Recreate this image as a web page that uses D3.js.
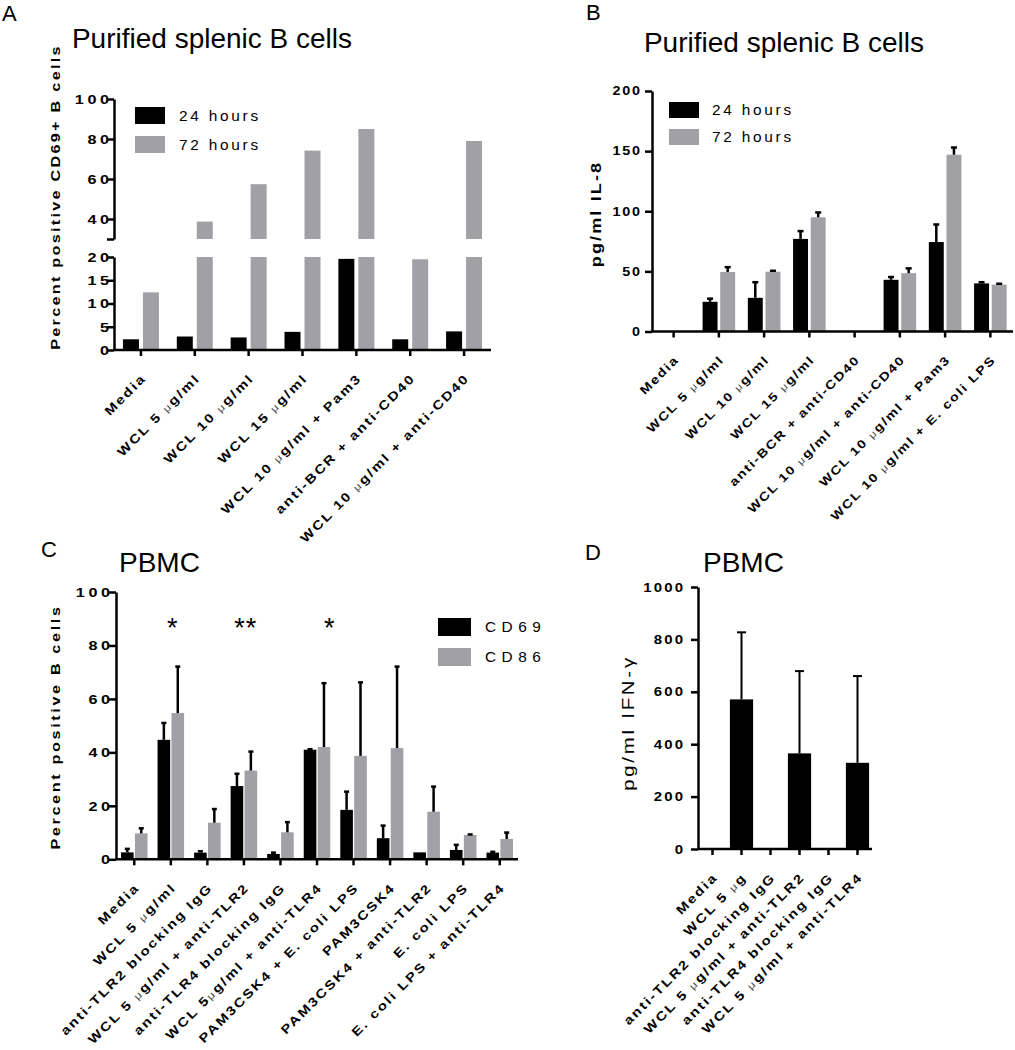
<!DOCTYPE html>
<html><head><meta charset="utf-8">
<script src="https://cdn.jsdelivr.net/npm/d3@7"></script>
<style>
html,body{margin:0;padding:0;background:#fff;}
svg{display:block;font-family:"Liberation Sans",Arial,sans-serif;}
</style></head>
<body>
<svg id="fig" width="1015" height="1050"></svg>
<script>
// ---------- DATA ----------
const seriesAB = ["24 hours", "72 hours"];
const seriesC = ["CD69", "CD86"];

const catA = ["Media","WCL 5 μg/ml","WCL 10 μg/ml","WCL 15 μg/ml","WCL 10 μg/ml + Pam3","anti-BCR + anti-CD40","WCL 10 μg/ml + anti-CD40"];
const a24 = [2.3, 2.9, 2.7, 3.9, 19.6, 2.3, 4.0];
const a72 = [12.4, 38.7, 57.4, 74.2, 85.0, 19.5, 79.0];
const ticksALow = [0, 5, 10, 15, 20];
const ticksAUp = [30, 40, 60, 80, 100];

const catB = ["Media","WCL 5 μg/ml","WCL 10 μg/ml","WCL 15 μg/ml","anti-BCR + anti-CD40","WCL 10 μg/ml + anti-CD40","WCL 10 μg/ml + Pam3","WCL 10 μg/ml + E. coli LPS"];
const b24 = [0, 24.7, 28.0, 77.0, 0, 43.0, 74.4, 40.0];
const b24sd = [0, 2.6, 13.0, 6.5, 0, 2.3, 14.6, 1.0];
const b72 = [0, 49.5, 49.7, 95.0, 0, 48.5, 147.0, 39.0];
const b72sd = [0, 4.0, 0.8, 4.0, 0, 4.0, 6.0, 0.7];
const ticksB = [0, 50, 100, 150, 200];

const catC = ["Media","WCL 5 μg/ml","anti-TLR2 blocking IgG","WCL 5 μg/ml + anti-TLR2","anti-TLR4 blocking IgG","WCL 5μg/ml + anti-TLR4","PAM3CSK4 + E. coli LPS","PAM3CSK4","PAM3CSK4 + anti-TLR2","E. coli LPS","E. coli LPS + anti-TLR4"];
const cd69 = [2.6, 44.7, 2.5, 27.4, 2.0, 41.0, 18.5, 7.9, 2.6, 3.5, 2.5];
const cd69sd = [1.3, 6.3, 0.5, 4.6, 0.5, 0.2, 6.8, 4.7, 0, 1.9, 0.3];
const cd86 = [9.7, 54.7, 13.7, 33.2, 10.1, 42.0, 38.7, 41.6, 17.8, 9.1, 7.6];
const cd86sd = [1.9, 17.4, 5.1, 7.1, 3.8, 23.9, 27.5, 30.5, 9.4, 0.2, 2.4];
const ticksC = [0, 20, 40, 60, 80, 100];
const starsC = [{cat: 1, shift: 0.05, text: "*", y: 89}, {cat: 3, shift: 0.05, text: "**", y: 89}, {cat: 5, shift: 0.35, text: "*", y: 89}];

const catD = ["Media","WCL 5 μg","anti-TLR2 blocking IgG","WCL 5 μg/ml + anti-TLR2","anti-TLR4 blocking IgG","WCL 5 μg/ml + anti-TLR4"];
const dIFN = [0, 571, 0, 365, 0, 329];
const dIFNsd = [0, 256, 0, 314, 0, 331];
const ticksD = [0, 200, 400, 600, 800, 1000];

// ---------- STYLE ----------
const BLACK = "#000", GRAY = "#a1a1a5";
const svg = d3.select("#fig");

function styleAxis(g, sx, fs, ls, pad) {
  g.select(".domain").attr("stroke", "#000").attr("stroke-width", 2.5);
  g.selectAll(".tick line").attr("stroke", "#000").attr("stroke-width", 2.5);
  g.selectAll(".tick text")
    .attr("font-size", fs).attr("font-weight", "bold").attr("fill", "#000")
    .style("letter-spacing", ls + "px")
    .attr("x", (-pad + ls * sx) / sx)
    .attr("transform", `scale(${sx},1)`);
}

function labelText(sel, txt, fs) {
  const parts = txt.split("μ");
  parts.forEach((p, i) => {
    if (i > 0) sel.append("tspan").attr("font-weight", "normal").attr("font-size", fs * 0.8).attr("fill", "#444").text("μ");
    sel.append("tspan").text(p);
  });
}

function xLabels(g, cats, x, y0, opts) {
  const sx = opts.sx || 1.2;
  cats.forEach(c => {
    const t = g.append("text")
      .attr("transform", `translate(${x(c) + x.bandwidth() / 2 + opts.dx},${y0 + opts.dy}) rotate(-45) scale(${sx},1)`)
      .attr("text-anchor", "end")
      .attr("font-size", opts.fs).attr("font-weight", "bold")
      .style("letter-spacing", opts.ls + "px");
    labelText(t, c, opts.fs);
  });
}

function xAxisLine(g, x, y0, tickLen) {
  const r = x.range();
  g.append("line").attr("x1", r[0]).attr("x2", r[1]).attr("y1", y0).attr("y2", y0).attr("stroke", "#000").attr("stroke-width", 2.5);
  x.domain().forEach(c => {
    const cx = x(c) + x.bandwidth() / 2;
    g.append("line").attr("x1", cx).attr("x2", cx).attr("y1", y0).attr("y2", y0 + tickLen).attr("stroke", "#000").attr("stroke-width", 2.5);
  });
}

function errBar(g, cx, yTop, yErr, cap, sw) {
  g.append("line").attr("x1", cx).attr("x2", cx).attr("y1", yTop).attr("y2", yErr).attr("stroke", "#000").attr("stroke-width", sw);
  g.append("line").attr("x1", cx - cap / 2).attr("x2", cx + cap / 2).attr("y1", yErr).attr("y2", yErr).attr("stroke", "#000").attr("stroke-width", sw);
}

function stretchedText(g, x, y, txt, o) {
  return g.append("text")
    .attr("transform", `translate(${x},${y})${o.rot ? " rotate(" + o.rot + ")" : ""} scale(${o.sx || 1},1)`)
    .attr("text-anchor", o.anchor || "start")
    .attr("font-size", o.fs).attr("font-weight", o.bold ? "bold" : "normal")
    .style("letter-spacing", (o.ls || 0) + "px")
    .text(txt);
}

function legend(g, x, y, w, h, gapY, names, textX, fs, ls, sx) {
  names.forEach((n, i) => {
    g.append("rect").attr("x", x).attr("y", y + i * gapY).attr("width", w).attr("height", h).attr("fill", i === 0 ? BLACK : GRAY);
    stretchedText(g, textX, y + i * gapY + h / 2 + fs * 0.36, n, {fs: fs, ls: ls, sx: sx});
  });
}

const LAB = {dx: 6, dy: 29, fs: 12.5, ls: 1.7, sx: 1.2};
const LAB_B = {dx: 6, dy: 29, fs: 12, ls: 1.4, sx: 1.2};

// ---------- PANEL A ----------
{
  const g = svg.append("g");
  g.append("text").attr("x", 2).attr("y", 21).attr("font-size", 22).text("A");
  g.append("text").attr("x", 212).attr("y", 48).attr("text-anchor", "middle").attr("font-size", 28).text("Purified splenic B cells");

  const x = d3.scaleBand().domain(catA).range([114, 491]).padding(0);
  const yLow = d3.scaleLinear().domain([0, 20]).range([350, 257]);
  const yUp = d3.scaleLinear().domain([30, 100]).range([239, 99]);

  const axLow = g.append("g").attr("transform", "translate(114,0)")
    .call(d3.axisLeft(yLow).tickValues(ticksALow).tickSize(7).tickSizeOuter(0));
  styleAxis(axLow, 1.2, 13.5, 3, 5);
  const axUp = g.append("g").attr("transform", "translate(114,0)")
    .call(d3.axisLeft(yUp).tickValues(ticksAUp).tickFormat(d => d === 30 ? "" : d).tickSize(7).tickSizeOuter(0));
  styleAxis(axUp, 1.2, 13.5, 3, 5);

  const step = x.step(), bw = step * 0.297, gap = step * 0.037;
  catA.forEach((c, i) => {
    const cx = x(c) + x.bandwidth() / 2;
    g.append("rect").attr("x", cx - gap - bw).attr("width", bw)
      .attr("y", yLow(a24[i])).attr("height", yLow(0) - yLow(a24[i])).attr("fill", BLACK);
    const v = a72[i];
    const top = Math.min(v, 20);
    g.append("rect").attr("x", cx + gap).attr("width", bw)
      .attr("y", yLow(top)).attr("height", yLow(0) - yLow(top)).attr("fill", GRAY);
    if (v > 30) {
      g.append("rect").attr("x", cx + gap).attr("width", bw)
        .attr("y", yUp(v)).attr("height", yUp(30) - yUp(v)).attr("fill", GRAY);
    }
  });
  xAxisLine(g, x, 350, 6);
  xLabels(g, catA, x, 350, LAB);
  stretchedText(g, 60, 197, "Percent positive CD69+ B cells", {fs: 13.5, bold: true, ls: 1.9, sx: 1.2, rot: -90, anchor: "middle"});
  legend(g, 135, 107, 30, 17, 29, seriesAB, 179, 14, 2.5, 1.1);
}

// ---------- PANEL B ----------
{
  const g = svg.append("g");
  g.append("text").attr("x", 586).attr("y", 20).attr("font-size", 22).text("B");
  g.append("text").attr("x", 784).attr("y", 52).attr("text-anchor", "middle").attr("font-size", 28).text("Purified splenic B cells");

  const x = d3.scaleBand().domain(catB).range([651, 1013]).padding(0);
  const y = d3.scaleLinear().domain([0, 200]).range([331.5, 91]);
  const ax = g.append("g").attr("transform", "translate(652,0)")
    .call(d3.axisLeft(y).tickValues(ticksB).tickSize(7).tickSizeOuter(0));
  styleAxis(ax, 1.2, 12, 1.5, 12);

  const step = x.step(), bw = step * 0.33, gap = step * 0.03;
  catB.forEach((c, i) => {
    const cx = x(c) + x.bandwidth() / 2;
    if (b24[i] > 0) {
      g.append("rect").attr("x", cx - gap - bw).attr("width", bw).attr("y", y(b24[i])).attr("height", y(0) - y(b24[i])).attr("fill", BLACK);
      errBar(g, cx - gap - bw / 2, y(b24[i]), y(b24[i] + b24sd[i]), 6, 2.5);
    }
    if (b72[i] > 0) {
      g.append("rect").attr("x", cx + gap).attr("width", bw).attr("y", y(b72[i])).attr("height", y(0) - y(b72[i])).attr("fill", GRAY);
      errBar(g, cx + gap + bw / 2, y(b72[i]), y(b72[i] + b72sd[i]), 6, 2.5);
    }
  });
  xAxisLine(g, x, 331.5, 6);
  xLabels(g, catB, x, 331.5, LAB_B);
  stretchedText(g, 601, 214, "pg/ml IL-8", {fs: 15, bold: true, ls: 1.8, sx: 1.2, rot: -90, anchor: "middle"});
  legend(g, 669, 102, 30, 16, 27, seriesAB, 712, 14, 2.5, 1.1);
}

// ---------- PANEL C ----------
{
  const g = svg.append("g");
  g.append("text").attr("x", 41).attr("y", 557).attr("font-size", 22).text("C");
  g.append("text").attr("x", 119).attr("y", 572).attr("font-size", 28).text("PBMC");

  const x = d3.scaleBand().domain(catC).range([116, 518]).padding(0);
  const y = d3.scaleLinear().domain([0, 100]).range([859.3, 592]);
  const ax = g.append("g").attr("transform", "translate(116,0)")
    .call(d3.axisLeft(y).tickValues(ticksC).tickSize(7).tickSizeOuter(0));
  styleAxis(ax, 1.2, 13.5, 3, 6);

  const step = x.step(), bw = step * 0.345, gap = step * 0.018;
  catC.forEach((c, i) => {
    const cx = x(c) + x.bandwidth() / 2;
    g.append("rect").attr("x", cx - gap - bw).attr("width", bw).attr("y", y(cd69[i])).attr("height", y(0) - y(cd69[i])).attr("fill", BLACK);
    if (cd69sd[i] > 0) errBar(g, cx - gap - bw / 2, y(cd69[i]), y(cd69[i] + cd69sd[i]), 5, 2.5);
    g.append("rect").attr("x", cx + gap).attr("width", bw).attr("y", y(cd86[i])).attr("height", y(0) - y(cd86[i])).attr("fill", GRAY);
    if (cd86sd[i] > 0) errBar(g, cx + gap + bw / 2, y(cd86[i]), y(cd86[i] + cd86sd[i]), 5, 2.5);
  });
  starsC.forEach(s => {
    const cx = x(catC[s.cat]) + x.bandwidth() / 2 + s.shift * step;
    g.append("text").attr("x", cx).attr("y", y(s.y) + 16).attr("text-anchor", "middle")
      .attr("font-size", 27).style("letter-spacing", "1px").text(s.text);
  });
  xAxisLine(g, x, 859.3, 6);
  xLabels(g, catC, x, 859.3, LAB);
  stretchedText(g, 60, 727, "Percent positive B cells", {fs: 13.5, bold: true, ls: 2.2, sx: 1.2, rot: -90, anchor: "middle"});
  legend(g, 438, 618, 33, 18, 30, seriesC, 485, 14, 5, 1.1);
}

// ---------- PANEL D ----------
{
  const g = svg.append("g");
  g.append("text").attr("x", 585).attr("y", 560).attr("font-size", 22).text("D");
  g.append("text").attr("x", 703).attr("y", 572).attr("font-size", 28).text("PBMC");

  const x = d3.scaleBand().domain(catD).range([698, 872]).padding(0);
  const y = d3.scaleLinear().domain([0, 1000]).range([849, 587]);
  const ax = g.append("g").attr("transform", "translate(698,0)")
    .call(d3.axisLeft(y).tickValues(ticksD).tickFormat(d3.format("d")).tickSize(7).tickSizeOuter(0));
  styleAxis(ax, 1.2, 12.5, 1.8, 15);

  const step = x.step(), bw = step * 0.8;
  catD.forEach((c, i) => {
    if (dIFN[i] <= 0) return;
    const cx = x(c) + x.bandwidth() / 2;
    g.append("rect").attr("x", cx - bw / 2).attr("width", bw).attr("y", y(dIFN[i])).attr("height", y(0) - y(dIFN[i])).attr("fill", BLACK);
    errBar(g, cx, y(dIFN[i]), y(dIFN[i] + dIFNsd[i]), 9, 2);
  });
  xAxisLine(g, x, 849, 6);
  xLabels(g, catD, x, 849, LAB);
  stretchedText(g, 634, 723, "pg/ml IFN-γ", {fs: 17, bold: false, ls: 2.3, sx: 1.2, rot: -90, anchor: "middle"});
}
</script>
</body></html>
